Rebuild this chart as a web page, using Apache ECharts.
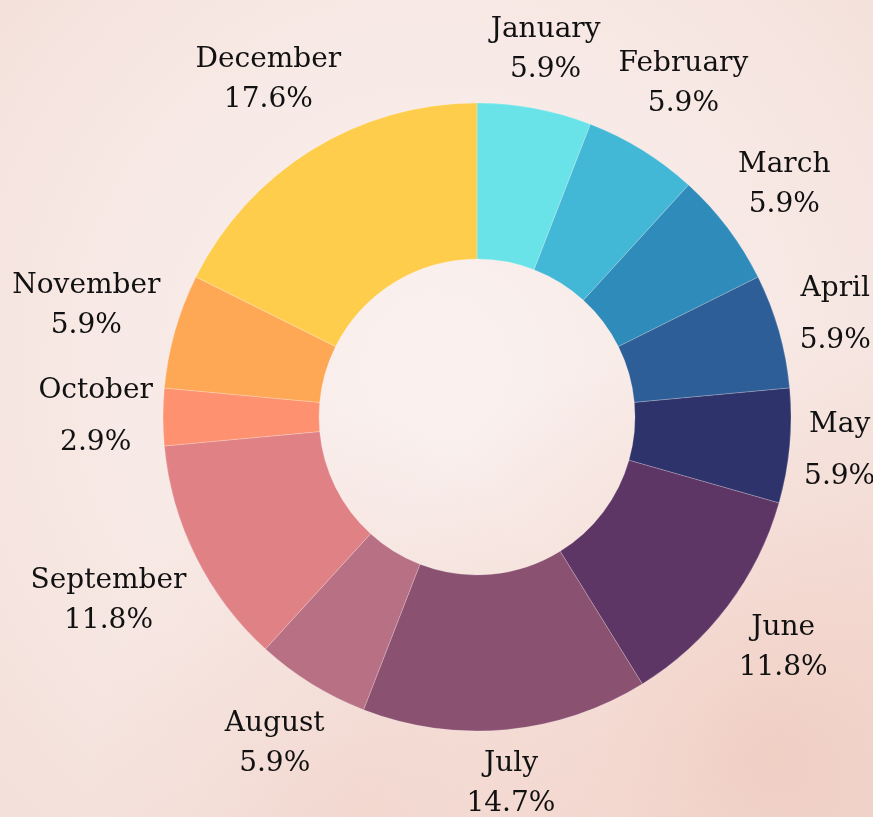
<!DOCTYPE html>
<html>
<head>
<meta charset="utf-8">
<script src="https://cdn.jsdelivr.net/npm/echarts@6/dist/echarts.min.js"></script>
<style>
  html, body { margin: 0; padding: 0; }
  body {
    width: 873px; height: 817px; overflow: hidden;
    background:
      radial-gradient(ellipse at 88% 92%, rgba(236, 188, 172, 0.5), rgba(236, 188, 172, 0) 40%),
      radial-gradient(ellipse at 40% 100%, rgba(238, 200, 188, 0.45), rgba(238, 200, 188, 0) 35%),
      radial-gradient(ellipse at 50% 45%, #faf1ef 0%, #f7e8e4 60%, #f3dfd9 100%);
  }
  #chart { width: 873px; height: 817px; }
</style>
</head>
<body>
<div id="chart"></div>
<script>
  // 月份和数量
  const months = ['January', 'February', 'March', 'April', 'May', 'June',
    'July', 'August', 'September', 'October', 'November', 'December'];
  const counts = [2, 2, 2, 2, 2, 4, 5, 2, 4, 1, 2, 6];
  const colors = ['#6ae3e8', '#42b7d6', '#2e8bba', '#2e5e98', '#2e336b', '#5e3666',
    '#8a5171', '#b87085', '#e08285', '#fe9270', '#fea856', '#fecd4b'];

  const total = counts.reduce((a, b) => a + b, 0);

  // 这几个标签两行间距大一些
  const loose = ['April', 'May', 'October'];

  const chart = echarts.init(document.getElementById('chart'));

  // 标签框贴着扇区外侧，居中放
  function placeLabel(params) {
    const data = chart.getModel().getSeriesByIndex(0).getData();
    const lay = data.getItemLayout(params.dataIndex);
    const mid = (lay.startAngle + lay.endAngle) / 2;
    const ux = Math.cos(mid), uy = Math.sin(mid);
    const hw = params.labelRect.width / 2, hh = params.labelRect.height / 2;
    const d = lay.r + 10 + hw * Math.abs(ux) + hh * Math.abs(uy);
    return {
      x: lay.cx + ux * d,
      y: lay.cy + uy * d,
      align: 'center',
      verticalAlign: 'middle'
    };
  }

  const option = {
    backgroundColor: 'transparent',
    series: [
      {
        type: 'pie',
        center: [477, 417],
        radius: [158, 314],
        startAngle: 90,
        avoidLabelOverlap: false,
        silent: true,
        itemStyle: { borderColor: 'rgba(255,255,255,0.35)', borderWidth: 0.6 },
        label: {
          show: true,
          position: 'outside',
          formatter: p => p.name + '\n' + (p.value / total * 100).toFixed(1) + '%',
          fontFamily: 'DejaVu Serif',
          fontSize: 28,
          lineHeight: 40,
          color: '#111'
        },
        labelLine: { show: false },
        labelLayout: placeLabel,
        data: months.map((m, i) => ({
          name: m,
          value: counts[i],
          itemStyle: { color: colors[i] },
          label: loose.indexOf(m) >= 0 ? { lineHeight: 52 } : undefined
        }))
      }
    ]
  };

  chart.setOption(option);
</script>
</body>
</html>
